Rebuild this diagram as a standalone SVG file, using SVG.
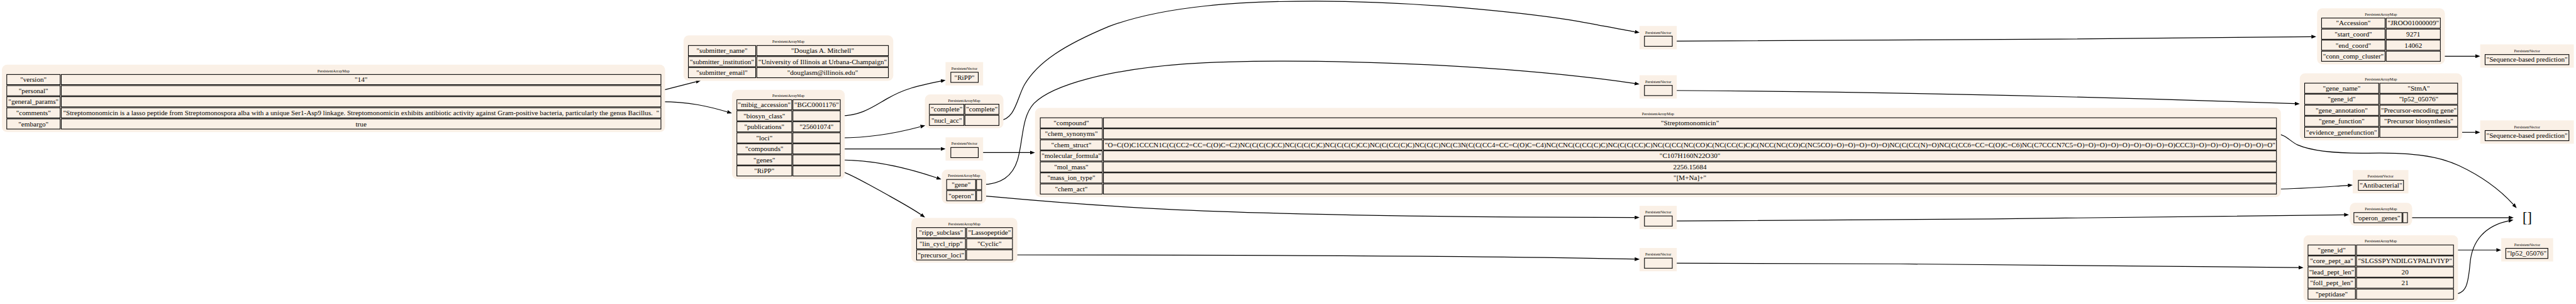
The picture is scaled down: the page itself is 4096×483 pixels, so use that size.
<svg xmlns="http://www.w3.org/2000/svg" width="4096" height="483" viewBox="0 0 4096 483">
<style>
.bg{fill:#faf0e6}
.c{fill:#faf0e6;stroke:#000;stroke-width:1.8}
text{font-family:"Liberation Serif","Times New Roman",serif;font-size:18.67px;text-anchor:middle;fill:#000}
text.ti{font-size:10.67px}
.e{fill:none;stroke:#000;stroke-width:2}
</style>
<defs>
<marker id="ah" viewBox="0 0 13 10" refX="0" refY="5" markerWidth="13" markerHeight="10" markerUnits="userSpaceOnUse" orient="auto"><path d="M0,0 L13,5 L0,10 z" fill="#000"/></marker>
</defs>
<rect width="4096" height="483" fill="#fff"/>
<g transform="scale(0.5978)">
<g id="edges">
<path class="e" marker-end="url(#ah)" d="M1758,241 L1851.4,217.2"/>
<path class="e" marker-end="url(#ah)" d="M1758,270.5 C1835,270.5 1885,283 1934.5,297.4"/>
<path class="e" marker-end="url(#ah)" d="M2235,307.8 C2290,307.8 2320,285 2360,262 C2405,236 2440,228 2502.5,215.5"/>
<path class="e" marker-end="url(#ah)" d="M2235,366.4 C2310,366.4 2380,355 2448.5,336.6"/>
<path class="e" marker-end="url(#ah)" d="M2235,395.7 L2502,395.7"/>
<path class="e" marker-end="url(#ah)" d="M2235,425 C2320,425 2410,445 2491.5,472.5"/>
<path class="e" marker-end="url(#ah)" d="M2235,454.3 C2262,462 2300,485 2341,507 C2380,529 2420,550 2449.8,570.5"/>
<path class="e" marker-end="url(#ah)" d="M2657,320 C2700,320 2705,260 2725,225 C2760,165 2830,120 2950,70 C3100,15 3300,3 3500,3 C3800,3 4100,40 4200,57 C4260,68 4310,78 4348.3,84.4"/>
<path class="e" marker-end="url(#ah)" d="M2611,490.5 C2660,490.5 2695,470 2708,420 C2722,365 2718,310 2750,275 C2800,225 2950,185 3150,170 C3350,157 3600,163 3800,172 C4000,182 4200,200 4348,222"/>
<path class="e" marker-end="url(#ah)" d="M2611,520 C2700,528 2850,543 3100,556 C3400,571 3900,578 4348,578"/>
<path class="e" marker-end="url(#ah)" d="M2693,677.5 C3200,677.5 3950,680 4348,688.7"/>
<path class="e" marker-end="url(#ah)" d="M2602,405.5 L2740,405.5"/>
<path class="e" marker-end="url(#ah)" d="M4448,109.5 C4900,109.5 5600,103 6148,97.6"/>
<path class="e" marker-end="url(#ah)" d="M4448,240.5 C5000,244 5600,258 6104,275.5"/>
<path class="e" marker-end="url(#ah)" d="M4448,587.5 C5000,586 5700,578 6235,571"/>
<path class="e" marker-end="url(#ah)" d="M4448,699.5 C5000,700 5600,704 6114,711"/>
<path class="e" marker-end="url(#ah)" d="M6491,149.4 L6584,149.4"/>
<path class="e" marker-end="url(#ah)" d="M6537,351.7 L6584,351.7"/>
<path class="e" marker-end="url(#ah)" d="M6055,355.8 C6080,357 6090,375 6111,385 C6150,402 6220,408 6300,407 C6400,405 6480,412 6540,440 C6600,468 6650,505 6685.2,543.5"/>
<path class="e" marker-end="url(#ah)" d="M6055,502.3 C6120,502 6180,497 6245,492.8"/>
<path class="e" marker-end="url(#ah)" d="M6403.5,578.5 L6673,578.5"/>
<path class="e" marker-end="url(#ah)" d="M6526,781.7 C6560,781.7 6565,755 6570,700 C6575,640 6610,600 6672.6,586.9"/>
<path class="e" marker-end="url(#ah)" d="M6526,664.5 L6640,664.5"/>
</g>

<g id="root">
<rect class="bg" x="5" y="172" width="1764" height="179" rx="14"/>
<text class="ti" x="887" y="192.5">PersistentArrayMap</text>
<rect class="c" x="18" y="198" width="142" height="27"/><rect class="c" x="163" y="198" width="1595" height="27"/>
<rect class="c" x="18" y="227.5" width="142" height="27"/><rect class="c" x="163" y="227.5" width="1595" height="27"/>
<rect class="c" x="18" y="257" width="142" height="27"/><rect class="c" x="163" y="257" width="1595" height="27"/>
<rect class="c" x="18" y="286.5" width="142" height="27"/><rect class="c" x="163" y="286.5" width="1595" height="27"/>
<rect class="c" x="18" y="316" width="142" height="27"/><rect class="c" x="163" y="316" width="1595" height="27"/>
<text x="89" y="217.7">"version"</text><text x="960.5" y="217.7">"14"</text>
<text x="89" y="247.2">"personal"</text>
<text x="89" y="276.7">"general_params"</text>
<text x="89" y="306.2">"comments"</text>
<text x="960.5" y="306.2" xml:space="preserve" textLength="1585" lengthAdjust="spacingAndGlyphs">"Streptomonomicin is a lasso peptide from Streptomonospora alba with a unique Ser1-Asp9 linkage. Streptomonomicin exhibits antibiotic activity against Gram-positive bacteria, particularly the genus Bacillus.  "</text>
<text x="89" y="335.7">"embargo"</text><text x="960.5" y="335.7">true</text>
</g>

<g id="submitter">
<rect class="bg" x="1818" y="94" width="558" height="121" rx="14"/>
<text class="ti" x="2097" y="114.5">PersistentArrayMap</text>
<rect class="c" x="1831" y="121" width="179" height="27"/><rect class="c" x="2013" y="121" width="350" height="27"/>
<rect class="c" x="1831" y="150.3" width="179" height="27"/><rect class="c" x="2013" y="150.3" width="350" height="27"/>
<rect class="c" x="1831" y="179.6" width="179" height="27"/><rect class="c" x="2013" y="179.6" width="350" height="27"/>
<text x="1920.5" y="140.7">"submitter_name"</text><text x="2188" y="140.7">"Douglas A. Mitchell"</text>
<text x="1920.5" y="170">"submitter_institution"</text><text x="2188" y="170">"University of Illinois at Urbana-Champaign"</text>
<text x="1920.5" y="199.3">"submitter_email"</text><text x="2188" y="199.3">"douglasm@illinois.edu"</text>
</g>

<g id="general">
<rect class="bg" x="1947" y="239" width="300" height="237" rx="14"/>
<text class="ti" x="2097" y="257.5">PersistentArrayMap</text>
<rect class="c" x="1960" y="265" width="146" height="27"/><rect class="c" x="2109" y="265" width="126" height="27"/>
<rect class="c" x="1960" y="294.3" width="146" height="27"/><rect class="c" x="2109" y="294.3" width="126" height="27"/>
<rect class="c" x="1960" y="323.6" width="146" height="27"/><rect class="c" x="2109" y="323.6" width="126" height="27"/>
<rect class="c" x="1960" y="352.9" width="146" height="27"/><rect class="c" x="2109" y="352.9" width="126" height="27"/>
<rect class="c" x="1960" y="382.2" width="146" height="27"/><rect class="c" x="2109" y="382.2" width="126" height="27"/>
<rect class="c" x="1960" y="411.5" width="146" height="27"/><rect class="c" x="2109" y="411.5" width="126" height="27"/>
<rect class="c" x="1960" y="440.8" width="146" height="27"/><rect class="c" x="2109" y="440.8" width="126" height="27"/>
<text x="2033" y="284.7">"mibig_accession"</text><text x="2172" y="284.7">"BGC0001176"</text>
<text x="2033" y="314">"biosyn_class"</text>
<text x="2033" y="343.3">"publications"</text><text x="2172" y="343.3">"25601074"</text>
<text x="2033" y="372.6">"loci"</text>
<text x="2033" y="401.9">"compounds"</text>
<text x="2033" y="431.2">"genes"</text>
<text x="2033" y="460.5">"RiPP"</text>
</g>

<g id="biosyn-class">
<rect class="bg" x="2515" y="165" width="100" height="62"/>
<text class="ti" x="2565" y="185.5">PersistentVector</text>
<rect class="c" x="2529" y="192" width="73" height="27"/>
<text x="2565.5" y="211.7">"RiPP"</text>
</g>

<g id="loci">
<rect class="bg" x="2460" y="251" width="209" height="90" rx="14"/>
<text class="ti" x="2564.5" y="270.5">PersistentArrayMap</text>
<rect class="c" x="2472" y="277" width="92" height="27"/><rect class="c" x="2566.5" y="277" width="90.5" height="27"/>
<rect class="c" x="2472" y="306.5" width="92" height="27"/><rect class="c" x="2566.5" y="306.5" width="90.5" height="27"/>
<text x="2518" y="296.7">"complete"</text><text x="2611.7" y="296.7">"complete"</text>
<text x="2518" y="326.2">"nucl_acc"</text>
</g>

<g id="compounds">
<rect class="bg" x="2515" y="365" width="100" height="62"/>
<text class="ti" x="2565" y="385.5">PersistentVector</text>
<rect class="c" x="2529" y="392" width="73" height="27"/>
</g>

<g id="genes">
<rect class="bg" x="2505" y="451" width="118" height="90" rx="14"/>
<text class="ti" x="2564" y="470.5">PersistentArrayMap</text>
<rect class="c" x="2518" y="477" width="77" height="27"/><rect class="c" x="2597.5" y="477" width="13.5" height="27"/>
<rect class="c" x="2518" y="506.5" width="77" height="27"/><rect class="c" x="2597.5" y="506.5" width="13.5" height="27"/>
<text x="2556.5" y="496.7">"gene"</text>
<text x="2556.5" y="526.2">"operon"</text>
</g>

<g id="ripp">
<rect class="bg" x="2424" y="579" width="282" height="119" rx="14"/>
<text class="ti" x="2565" y="598.5">PersistentArrayMap</text>
<rect class="c" x="2438" y="605" width="130" height="27"/><rect class="c" x="2571" y="605" width="122" height="27"/>
<rect class="c" x="2438" y="634.5" width="130" height="27"/><rect class="c" x="2571" y="634.5" width="122" height="27"/>
<rect class="c" x="2438" y="664" width="130" height="27"/><rect class="c" x="2571" y="664" width="122" height="27"/>
<text x="2503" y="624.7">"ripp_subclass"</text><text x="2632" y="624.7">"Lassopeptide"</text>
<text x="2503" y="654.2">"lin_cycl_ripp"</text><text x="2632" y="654.2">"Cyclic"</text>
<text x="2503" y="683.7">"precursor_loci"</text>
</g>

<g id="compound">
<rect class="bg" x="2753" y="287" width="3314" height="237" rx="14"/>
<text class="ti" x="4410" y="306.5">PersistentArrayMap</text>
<rect class="c" x="2767" y="313" width="165" height="27"/><rect class="c" x="2935" y="313" width="3120" height="27"/>
<rect class="c" x="2767" y="342.3" width="165" height="27"/><rect class="c" x="2935" y="342.3" width="3120" height="27"/>
<rect class="c" x="2767" y="371.6" width="165" height="27"/><rect class="c" x="2935" y="371.6" width="3120" height="27"/>
<rect class="c" x="2767" y="400.9" width="165" height="27"/><rect class="c" x="2935" y="400.9" width="3120" height="27"/>
<rect class="c" x="2767" y="430.2" width="165" height="27"/><rect class="c" x="2935" y="430.2" width="3120" height="27"/>
<rect class="c" x="2767" y="459.5" width="165" height="27"/><rect class="c" x="2935" y="459.5" width="3120" height="27"/>
<rect class="c" x="2767" y="488.8" width="165" height="27"/><rect class="c" x="2935" y="488.8" width="3120" height="27"/>
<text x="2849.5" y="332.7">"compound"</text><text x="4495" y="332.7">"Streptomonomicin"</text>
<text x="2849.5" y="362">"chem_synonyms"</text>
<text x="2849.5" y="391.3">"chem_struct"</text>
<text x="4495.5" y="391.3" textLength="3113" lengthAdjust="spacingAndGlyphs">"O=C(O)C1CCCN1C(C(CC2=CC=C(O)C=C2)NC(C(C(C)CC)NC(C(C(C)C)NC(C(C(C)CC)NC(C(CC(C)C)NC(C(C)NC(C3N(C(C(CC4=CC=C(O)C=C4)NC(CNC(C(CC(C)C)NC(C(C(CC)C)NC(C(CC(NC(CO)C(NC(CC(C)C)C(NCC(NC(CO)C(NC5CO)=O)=O)=O)=O)=O)NC(C(CC(N)=O)NC(C(CC6=CC=C(O)C=C6)NC(C7CCCN7C5=O)=O)=O)=O)=O)=O)=O)=O)=O)CCC3)=O)=O)=O)=O)=O)=O)=O"</text>
<text x="2849.5" y="420.6">"molecular_formula"</text><text x="4495" y="420.6">"C107H160N22O30"</text>
<text x="2849.5" y="449.9">"mol_mass"</text><text x="4495" y="449.9">2256.15684</text>
<text x="2849.5" y="479.2">"mass_ion_type"</text><text x="4495" y="479.2">"[M+Na]+"</text>
<text x="2849.5" y="508.5">"chem_act"</text>
</g>

<g id="nucl-acc">
<rect class="bg" x="4361" y="69" width="99" height="62"/>
<text class="ti" x="4410.5" y="89.5">PersistentVector</text>
<rect class="c" x="4374" y="96" width="74" height="27"/>
</g>
<g id="gene">
<rect class="bg" x="4361" y="200" width="99" height="62"/>
<text class="ti" x="4410.5" y="220.5">PersistentVector</text>
<rect class="c" x="4374" y="227" width="74" height="27"/>
</g>
<g id="operon">
<rect class="bg" x="4361" y="547" width="99" height="62"/>
<text class="ti" x="4410.5" y="567.5">PersistentVector</text>
<rect class="c" x="4374" y="574" width="74" height="27"/>
</g>
<g id="precursor-loci">
<rect class="bg" x="4361" y="659" width="99" height="62"/>
<text class="ti" x="4410.5" y="679.5">PersistentVector</text>
<rect class="c" x="4374" y="686" width="74" height="27"/>
</g>

<g id="accession">
<rect class="bg" x="6163" y="22" width="340" height="149" rx="14"/>
<text class="ti" x="6333" y="41.5">PersistentArrayMap</text>
<rect class="c" x="6175" y="48" width="169" height="27"/><rect class="c" x="6347" y="48" width="144" height="27"/>
<rect class="c" x="6175" y="77.3" width="169" height="27"/><rect class="c" x="6347" y="77.3" width="144" height="27"/>
<rect class="c" x="6175" y="106.6" width="169" height="27"/><rect class="c" x="6347" y="106.6" width="144" height="27"/>
<rect class="c" x="6175" y="135.9" width="169" height="27"/><rect class="c" x="6347" y="135.9" width="144" height="27"/>
<text x="6259.5" y="67.7">"Accession"</text><text x="6419" y="67.7">"JROO01000009"</text>
<text x="6259.5" y="97">"start_coord"</text><text x="6419" y="97">9271</text>
<text x="6259.5" y="126.3">"end_coord"</text><text x="6419" y="126.3">14062</text>
<text x="6259.5" y="155.6">"conn_comp_cluster"</text>
</g>

<g id="seq1">
<rect class="bg" x="6597" y="118" width="249" height="62"/>
<text class="ti" x="6721.5" y="138.5">PersistentVector</text>
<rect class="c" x="6610" y="145" width="223" height="27"/>
<text x="6721.5" y="164.7">"Sequence-based prediction"</text>
</g>

<g id="gene-info">
<rect class="bg" x="6117" y="195" width="432" height="178" rx="14"/>
<text class="ti" x="6333" y="214.5">PersistentArrayMap</text>
<rect class="c" x="6130" y="221" width="197" height="27"/><rect class="c" x="6330" y="221" width="207" height="27"/>
<rect class="c" x="6130" y="250.3" width="197" height="27"/><rect class="c" x="6330" y="250.3" width="207" height="27"/>
<rect class="c" x="6130" y="279.6" width="197" height="27"/><rect class="c" x="6330" y="279.6" width="207" height="27"/>
<rect class="c" x="6130" y="308.9" width="197" height="27"/><rect class="c" x="6330" y="308.9" width="207" height="27"/>
<rect class="c" x="6130" y="338.2" width="197" height="27"/><rect class="c" x="6330" y="338.2" width="207" height="27"/>
<text x="6228.5" y="240.7">"gene_name"</text><text x="6433.5" y="240.7">"StmA"</text>
<text x="6228.5" y="270">"gene_id"</text><text x="6433.5" y="270">"lp52_05076"</text>
<text x="6228.5" y="299.3">"gene_annotation"</text><text x="6433.5" y="299.3">"Precursor-encoding gene"</text>
<text x="6228.5" y="328.6">"gene_function"</text><text x="6433.5" y="328.6">"Precursor biosynthesis"</text>
<text x="6228.5" y="357.9">"evidence_genefunction"</text>
</g>

<g id="seq2">
<rect class="bg" x="6597" y="320" width="249" height="62"/>
<text class="ti" x="6721.5" y="340.5">PersistentVector</text>
<rect class="c" x="6610" y="347" width="223" height="27"/>
<text x="6721.5" y="366.7">"Sequence-based prediction"</text>
</g>

<g id="chem-act">
<rect class="bg" x="6258" y="452" width="148" height="62"/>
<text class="ti" x="6332" y="472.5">PersistentVector</text>
<rect class="c" x="6273" y="479" width="120" height="27"/>
<text x="6333" y="498.7">"Antibacterial"</text>
</g>

<g id="operon-genes">
<rect class="bg" x="6250" y="539" width="166" height="61" rx="14"/>
<text class="ti" x="6333" y="559.5">PersistentArrayMap</text>
<rect class="c" x="6261" y="565" width="128" height="27"/><rect class="c" x="6391.5" y="565" width="12" height="27"/>
<text x="6325" y="584.7">"operon_genes"</text>
</g>

<g id="empty">
<text x="6722" y="591" style="font-size:37px">[]</text>
</g>

<g id="precursor">
<rect class="bg" x="6127" y="625" width="411" height="178" rx="14"/>
<text class="ti" x="6332.5" y="644.5">PersistentArrayMap</text>
<rect class="c" x="6139" y="651" width="126" height="27"/><rect class="c" x="6268" y="651" width="258" height="27"/>
<rect class="c" x="6139" y="680.3" width="126" height="27"/><rect class="c" x="6268" y="680.3" width="258" height="27"/>
<rect class="c" x="6139" y="709.6" width="126" height="27"/><rect class="c" x="6268" y="709.6" width="258" height="27"/>
<rect class="c" x="6139" y="738.9" width="126" height="27"/><rect class="c" x="6268" y="738.9" width="258" height="27"/>
<rect class="c" x="6139" y="768.2" width="126" height="27"/><rect class="c" x="6268" y="768.2" width="258" height="27"/>
<text x="6202" y="670.7">"gene_id"</text>
<text x="6202" y="700">"core_pept_aa"</text><text x="6397" y="700">"SLGSSPYNDILGYPALIVIYP"</text>
<text x="6202" y="729.3">"lead_pept_len"</text><text x="6397" y="729.3">20</text>
<text x="6202" y="758.6">"foll_pept_len"</text><text x="6397" y="758.6">21</text>
<text x="6202" y="787.9">"peptidase"</text>
</g>

<g id="gene-id">
<rect class="bg" x="6653" y="633" width="138" height="62"/>
<text class="ti" x="6722" y="653.5">PersistentVector</text>
<rect class="c" x="6665" y="660" width="112" height="27"/>
<text x="6721" y="679.7">"lp52_05076"</text>
</g>
</g>
</svg>
